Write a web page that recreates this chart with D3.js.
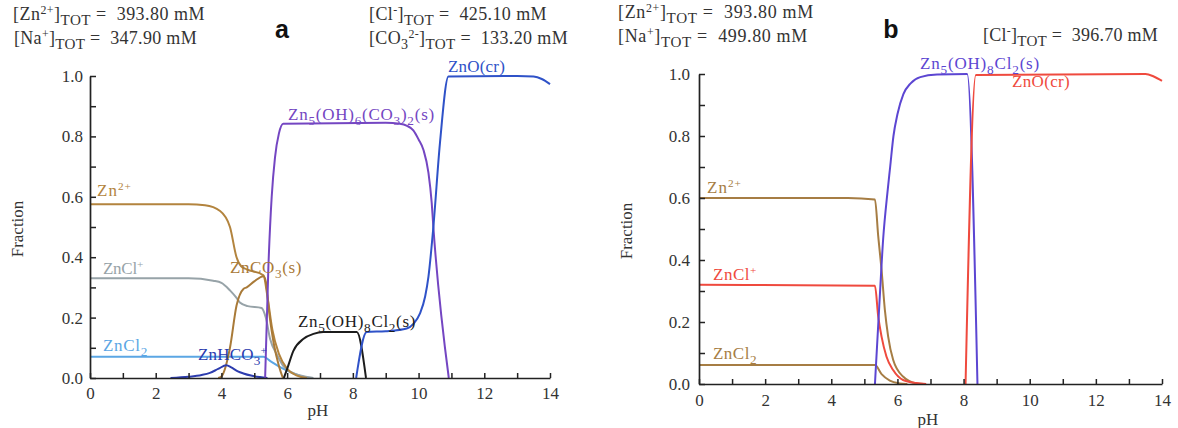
<!DOCTYPE html>
<html>
<head>
<meta charset="UTF-8">
<title>Zn speciation vs pH</title>
<script src="https://cdn.jsdelivr.net/npm/d3@7"></script>
<style>
  body { margin: 0; background: #fff; }
  svg text { font-family: "Liberation Serif", "Times New Roman", serif; white-space: pre; }
</style>
</head>
<body>
<script>
// tick values
var xTickValues = d3.range(0, 15);
var yTickValues = d3.range(0, 11).map(function (i) { return i / 10; });

// panel a : [pH, fraction]
var aZn2 = [[0,0.575],[3.0,0.575],[3.5,0.572],[3.96,0.553],[4.26,0.50],[4.46,0.40],[4.6,0.37],[4.77,0.36],[5.28,0.34],[5.4,0.27],[5.55,0.16],[5.75,0.08],[6.0,0.03],[6.3,0.008],[6.6,0]];
var aZnCO3 = [[3.9,0],[4.0,0.005],[4.26,0.10],[4.46,0.24],[4.67,0.295],[4.77,0.30],[5.0,0.32],[5.28,0.337],[5.35,0.32],[5.45,0.22],[5.6,0.11],[5.75,0.04],[5.87,0]];
var aZnCl = [[0,0.33],[3.0,0.33],[3.75,0.322],[4.0,0.315],[4.26,0.29],[4.46,0.265],[4.56,0.25],[4.8,0.238],[5.22,0.232],[5.35,0.20],[5.48,0.13],[5.7,0.075],[5.88,0.04],[6.1,0.02],[6.4,0.008],[6.8,0]];
var aZnCl2 = [[0,0.07],[5.28,0.07],[5.5,0.055],[5.8,0.035],[6.2,0.015],[6.6,0]];
var aZnHCO3 = [[2.45,0],[3.0,0.004],[3.4,0.01],[3.65,0.017],[3.9,0.03],[4.15,0.042],[4.3,0.035],[4.5,0.022],[4.67,0.015],[4.9,0.008],[5.17,0.003],[5.4,0]];
var aZn5CO3 = [[5.33,0],[5.43,0.37],[5.53,0.6],[5.63,0.73],[5.75,0.81],[5.88,0.842],[9.0,0.845],[9.43,0.842],[9.65,0.835],[9.84,0.82],[10.0,0.79],[10.15,0.755],[10.3,0.68],[10.4,0.58],[10.45,0.5],[10.92,0]];
var aZn5Cl2 = [[5.9,0],[6.0,0.03],[6.19,0.09],[6.5,0.13],[6.8,0.146],[7.1,0.152],[8.12,0.152],[8.4,0]];
var aZnO = [[8.1,0],[8.42,0.152],[9.0,0.155],[9.64,0.164],[9.85,0.18],[10.04,0.213],[10.2,0.27],[10.3,0.335],[10.45,0.5],[10.65,0.777],[10.91,0.998],[13.0,1.0],[13.5,0.998],[13.75,0.99],[14,0.973]];

// panel b
var bZn2 = [[0,0.60],[4.5,0.60],[5.32,0.595],[5.42,0.476],[5.52,0.368],[5.62,0.239],[5.72,0.153],[5.87,0.078],[6.17,0.024],[6.57,0.002],[6.8,0]];
var bZnCl = [[0,0.32],[5.32,0.317],[5.42,0.217],[5.52,0.153],[5.67,0.088],[5.87,0.045],[6.17,0.013],[6.57,0.003],[6.87,0]];
var bZnCl2 = [[0,0.061],[5.32,0.061],[5.52,0.032],[5.77,0.011],[6.07,0.002],[6.3,0]];
var bZn5Cl2 = [[5.32,0],[5.45,0.25],[5.57,0.47],[5.7,0.62],[5.78,0.7],[5.88,0.8],[6.0,0.87],[6.18,0.935],[6.4,0.97],[6.69,0.99],[7.2,0.998],[8.11,1.0],[8.42,0]];
var bZnO = [[8.06,0],[8.37,0.997],[13.5,1.0],[13.75,0.992],[14,0.978]];

var svg = d3.select("body").append("svg")
  .attr("width", 1178)
  .attr("height", 428);

// text with sub/superscripts: parts = ["Zn", ["2+","sup"], ...]
// w: width the text should take up, reached with letter-spacing
function richText(g, x, y, parts, size, color, w) {
  var t = g.append("text")
    .attr("x", x).attr("y", y)
    .attr("font-size", size)
    .attr("fill", color);
  var shift = 0, n = 0;
  parts.forEach(function (p) {
    var txt = typeof p === "string" ? p : p[0];
    var kind = typeof p === "string" ? "" : p[1];
    var target = 0, fs = size;
    if (kind === "sub") { target = size * 0.28; fs = size * 0.78; }
    if (kind === "sup") { target = -size * 0.34; fs = size * 0.66; }
    if (kind === "tot") { target = size * 0.3; fs = size * 0.84; }
    t.append("tspan")
      .attr("dy", target - shift)
      .attr("font-size", fs)
      .text(txt);
    shift = target;
    n += txt.length;
  });
  if (w) {
    var cur = t.node().getBBox().width;
    t.attr("letter-spacing", ((w - cur) / n).toFixed(2));
  }
  return t;
}

function drawPanel(cfg) {
  var g = svg.append("g");
  var x = d3.scaleLinear().domain([0, 14]).range([cfg.left, cfg.right]);
  var y = d3.scaleLinear().domain([0, 1]).range([cfg.bottom, cfg.top]);

  var line = d3.line()
    .x(function (d) { return x(d[0]); })
    .y(function (d) { return y(d[1]); })
    .curve(d3.curveMonotoneX);

  cfg.series.forEach(function (s) {
    g.append("path")
      .datum(s.data)
      .attr("fill", "none")
      .attr("stroke", s.color)
      .attr("stroke-width", 2)
      .attr("stroke-linejoin", "round")
      .attr("d", line);
  });

  var yAxis = d3.axisLeft(y)
    .tickValues(yTickValues)
    .tickSizeInner(-6).tickSizeOuter(0).tickPadding(cfg.yPad)
    .tickFormat(function (d) {
      return Math.round(d * 10) % 2 === 0 ? d3.format(".1f")(d) : "";
    });
  var xAxis = d3.axisBottom(x)
    .tickValues(xTickValues)
    .tickSizeInner(-5).tickSizeOuter(0).tickPadding(cfg.xPad)
    .tickFormat(function (d) { return d % 2 === 0 ? d : ""; });

  var ya = g.append("g").attr("transform", "translate(" + cfg.left + ",0)").call(yAxis);
  var xa = g.append("g").attr("transform", "translate(0," + cfg.bottom + ")").call(xAxis);
  [ya, xa].forEach(function (a) {
    a.select(".domain").attr("stroke", "#222").attr("stroke-width", 1.7);
    a.selectAll(".tick line").attr("stroke", "#222").attr("stroke-width", 1.5);
    a.selectAll(".tick text")
      .attr("font-size", 17)
      .attr("fill", "#333");
  });

  g.append("text")
    .attr("transform", "translate(" + cfg.yLabelX + "," + ((cfg.top + cfg.bottom) / 2 + 2) + ") rotate(-90)")
    .attr("text-anchor", "middle")
    .attr("font-size", 17)
    .attr("fill", "#333")
    .text("Fraction");
  g.append("text")
    .attr("x", cfg.pHX).attr("y", cfg.pHY)
    .attr("text-anchor", "middle")
    .attr("font-size", 17)
    .attr("fill", "#333")
    .text("pH");

  cfg.labels.forEach(function (l) {
    richText(g, l.x, l.y, l.parts, 17, l.color, l.w);
  });
  cfg.header.forEach(function (h) {
    richText(g, h.x, h.y, h.parts, 18, "#333", h.w);
  });
  g.append("text")
    .attr("x", cfg.letter.x).attr("y", cfg.letter.y)
    .attr("text-anchor", "middle")
    .style("font-family", "'Liberation Sans', Arial, sans-serif")
    .attr("font-weight", "bold")
    .attr("font-size", 25)
    .attr("fill", "#111")
    .text(cfg.letter.t);
}

var brownA = "#b3843e", brownA2 = "#a97a38", grayA = "#97a3a8", ltBlue = "#5ba6e4",
    dkBlue = "#2c3cae", purpleA = "#7446c2", blackA = "#1c1c1c", blueA = "#2f52c8";
var brownB = "#a67d44", redB = "#ef4a3e", purpleB = "#5c46d2";

drawPanel({
  left: 90, right: 550, top: 76, bottom: 378,
  yLabelX: 23, pHX: 318, pHY: 416, xPad: 9, yPad: 7,
  series: [
    { data: aZnCl2, color: ltBlue },
    { data: aZnCl, color: grayA },
    { data: aZn2, color: brownA },
    { data: aZnCO3, color: brownA2 },
    { data: aZnHCO3, color: dkBlue },
    { data: aZn5Cl2, color: blackA },
    { data: aZn5CO3, color: purpleA },
    { data: aZnO, color: blueA }
  ],
  labels: [
    { x: 97, y: 196, w: 35, color: brownA, parts: ["Zn", ["2+", "sup"]] },
    { x: 103, y: 274, w: 40, color: grayA, parts: ["ZnCl", ["+", "sup"]] },
    { x: 103, y: 351, w: 45, color: ltBlue, parts: ["ZnCl", ["2", "sub"]] },
    { x: 198, y: 360, w: 69, color: dkBlue, parts: ["ZnHCO", ["3", "sub"], ["+", "sup"]] },
    { x: 230, y: 273, w: 72, color: brownA2, parts: ["ZnCO", ["3", "sub"], "(s)"] },
    { x: 288, y: 120, w: 147, color: purpleA, parts: ["Zn", ["5", "sub"], "(OH)", ["6", "sub"], "(CO", ["3", "sub"], ")", ["2", "sub"], "(s)"] },
    { x: 298, y: 327, w: 118, color: blackA, parts: ["Zn", ["5", "sub"], "(OH)", ["8", "sub"], "Cl", ["2", "sub"], "(s)"] },
    { x: 448, y: 72, w: 57, color: blueA, parts: ["ZnO(cr)"] }
  ],
  header: [
    { x: 13, y: 20, w: 192, parts: ["[Zn", ["2+", "sup"], "]", ["TOT", "tot"], " =  393.80 mM"] },
    { x: 14, y: 44, w: 183, parts: ["[Na", ["+", "sup"], "]", ["TOT", "tot"], " =  347.90 mM"] },
    { x: 369, y: 20, w: 178, parts: ["[Cl", ["-", "sup"], "]", ["TOT", "tot"], " =  425.10 mM"] },
    { x: 369, y: 44, w: 199, parts: ["[CO", ["3", "sub"], ["2-", "sup"], "]", ["TOT", "tot"], " =  133.20 mM"] }
  ],
  letter: { x: 282, y: 38, t: "a" }
});

drawPanel({
  left: 699, right: 1162, top: 74, bottom: 384,
  yLabelX: 632, pHX: 928, pHY: 425, xPad: 10, yPad: 9,
  series: [
    { data: bZnCl2, color: brownB },
    { data: bZn2, color: brownB },
    { data: bZnCl, color: redB },
    { data: bZn5Cl2, color: purpleB },
    { data: bZnO, color: redB }
  ],
  labels: [
    { x: 707, y: 193, w: 35, color: brownB, parts: ["Zn", ["2+", "sup"]] },
    { x: 713, y: 280, w: 44, color: redB, parts: ["ZnCl", ["+", "sup"]] },
    { x: 713, y: 359, w: 44, color: brownB, parts: ["ZnCl", ["2", "sub"]] },
    { x: 920, y: 69, w: 120, color: purpleB, parts: ["Zn", ["5", "sub"], "(OH)", ["8", "sub"], "Cl", ["2", "sub"], "(s)"] },
    { x: 1012, y: 87, w: 58, color: redB, parts: ["ZnO(cr)"] }
  ],
  header: [
    { x: 618, y: 18, w: 196, parts: ["[Zn", ["2+", "sup"], "]", ["TOT", "tot"], " =  393.80 mM"] },
    { x: 618, y: 42, w: 190, parts: ["[Na", ["+", "sup"], "]", ["TOT", "tot"], " =  499.80 mM"] },
    { x: 983, y: 41, w: 175, parts: ["[Cl", ["-", "sup"], "]", ["TOT", "tot"], " =  396.70 mM"] }
  ],
  letter: { x: 891, y: 38, t: "b" }
});
</script>
</body>
</html>
